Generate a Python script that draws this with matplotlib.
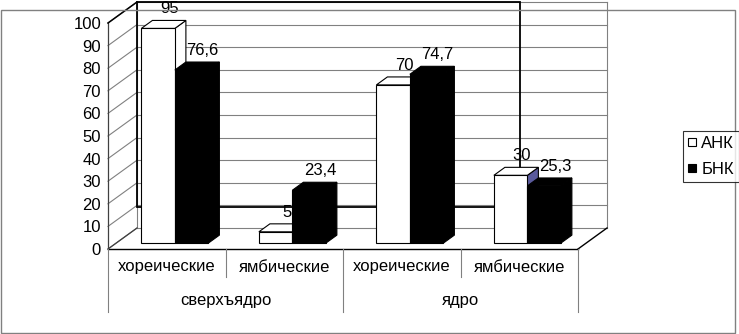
import matplotlib
matplotlib.use('Agg')
import matplotlib.pyplot as plt
from matplotlib.patches import Polygon, Rectangle
from matplotlib.lines import Line2D
from matplotlib.transforms import offset_copy

plt.rcParams['font.family'] = ['Liberation Sans', 'DejaVu Sans']

# ---- data ----
groups = ['сверхъядро', 'ядро']
categories = ['хореические', 'ямбические', 'хореические', 'ямбические']
series_names = ['АНК', 'БНК']
ank = [95, 5, 70, 30]
bnk = [76.6, 23.4, 74.7, 25.3]
yticks = [0, 10, 20, 30, 40, 50, 60, 70, 80, 90, 100]

# ---- style ----
W, H = 739, 334
FS = 12
GRID = '#808080'
face_colors = ['white', 'black']
side_colors = [['white', 'white', 'white', '#5a5a9c'], ['black'] * 4]

fig = plt.figure(figsize=(W / 100, H / 100), dpi=100)
fig.patch.set_facecolor('white')
ax = fig.add_axes([108 / W, 85 / H, 470 / W, 226 / H])
ax.set_xlim(0, len(categories))
ax.set_ylim(0, 100)
ax.patch.set_visible(False)
for s in ax.spines.values():
    s.set_visible(False)
ax.set_xticks([])
ax.set_yticks(yticks)
ax.set_yticklabels([str(t) for t in yticks])
ax.tick_params(axis='y', length=0, pad=5, labelsize=FS)

# depth vector (pixels -> data units)
p0 = ax.transData.transform((0, 0))
p1 = ax.transData.transform((1, 100))
sx = p1[0] - p0[0]
sy = (p1[1] - p0[1]) / 100.0
Dx, Dy = 29 / sx, 21 / sy
ncat = len(categories)

# outer chart border
fig.add_artist(Rectangle((1 / W, 1 / H), 734 / W, 323 / H, transform=fig.transFigure,
                         fill=False, edgecolor=GRID, lw=1))

# back wall & left wall gridlines
for v in yticks:
    ax.plot([Dx, ncat + Dx], [v + Dy, v + Dy], color=GRID, lw=0.8, clip_on=False, zorder=1)
    ax.plot([0, Dx], [v, v + Dy], color=GRID, lw=0.8, clip_on=False, zorder=1)
ax.plot([Dx, Dx], [Dy, 100 + Dy], color=GRID, lw=0.8, clip_on=False, zorder=1)
ax.plot([ncat + Dx, ncat + Dx], [Dy, 100 + Dy], color=GRID, lw=0.8, clip_on=False, zorder=1)
ax.plot([0, 0], [0, 100], color='#404040', lw=0.9, clip_on=False, zorder=1)
ax.plot([0, Dx], [100, 100 + Dy], color='black', lw=1.1, clip_on=False, zorder=1)
# floor front edges
ax.plot([0, ncat], [0, 0], color='black', lw=1, clip_on=False, zorder=2)
ax.plot([ncat, ncat + Dx], [0, Dy], color='black', lw=1, clip_on=False, zorder=2)
ax.plot([0, Dx], [0, Dy], color='#404040', lw=0.9, clip_on=False, zorder=2)

# black frame on the back wall
ax.add_patch(Rectangle((Dx, 9.3 + Dy), 3.26, 90.7, fill=False, edgecolor='black',
                       lw=1.3, clip_on=False, zorder=2))

# bars
f0, f1 = 0.28, 0.66
bw = 0.285
label_tr = offset_copy(ax.transData, fig=fig, x=0, y=7, units='dots')
for si, vals in enumerate([ank, bnk]):
    for i, v in enumerate(vals):
        x0 = i + 0.215 + si * bw
        z = 3 + si + 2 * i
        xf = x0 + f0 * Dx
        yf = f0 * Dy
        xb = x0 + f1 * Dx
        yb = f1 * Dy
        # side face
        ax.add_patch(Polygon([(xf + bw, yf), (xf + bw, yf + v), (xb + bw, yb + v), (xb + bw, yb)],
                             closed=True, facecolor=side_colors[si][i], edgecolor='black',
                             lw=0.8, clip_on=False, zorder=z))
        # top face
        ax.add_patch(Polygon([(xf, yf + v), (xf + bw, yf + v), (xb + bw, yb + v), (xb, yb + v)],
                             closed=True, facecolor=face_colors[si], edgecolor='black',
                             lw=0.8, clip_on=False, zorder=z))
        # front face
        ax.bar(xf, v, width=bw, bottom=yf, align='edge', color=face_colors[si],
               edgecolor='black', lw=0.8, clip_on=False, zorder=z)
        lab = f'{v:g}'.replace('.', ',')
        ax.text(xb + bw / 2, yb + v, lab, ha='center', va='baseline', fontsize=FS,
                transform=label_tr, zorder=20)

# category axis labels
xt = ax.get_xaxis_transform()
for i, c in enumerate(categories):
    ax.text(i + 0.5, -18 / 226, c, ha='center', va='center', fontsize=FS, transform=xt)
for g, name in enumerate(groups):
    ax.text(2 * g + 1, -52 / 226, name, ha='center', va='center', fontsize=FS, transform=xt)
for i in range(ncat + 1):
    depth = -63 / 226 if i % 2 == 0 else -28 / 226
    ax.plot([i, i], [0, depth], color=GRID, lw=0.8, transform=xt, clip_on=False)

# legend
handles = [Line2D([], [], marker='s', ls='', mfc=c, mec='black', ms=6, mew=0.8)
           for c in face_colors]
leg = fig.legend(handles, series_names, loc='upper left', bbox_to_anchor=(683 / W, 1 - 131 / H),
                 frameon=True, fancybox=False, edgecolor='black', fontsize=FS,
                 handlelength=0.5, handletextpad=0.3, borderpad=0.3, labelspacing=0.65,
                 borderaxespad=0)
leg.get_frame().set_linewidth(0.8)

fig.savefig('out.png', dpi=100, facecolor='white')
